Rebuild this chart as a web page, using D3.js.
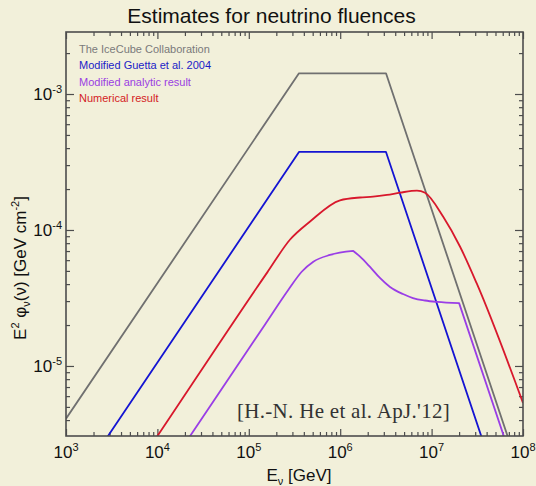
<!DOCTYPE html>
<html><head><meta charset="utf-8">
<script src="https://cdn.jsdelivr.net/npm/d3@7"></script>
<style>
html,body{margin:0;padding:0;background:#f2f0da;}
svg{display:block;}
text{font-family:"Liberation Sans",Arial,sans-serif;}
</style>
</head><body>
<svg id="chart" width="536" height="486"></svg>
<script>
// ---- data ----
const xMajorTicks = [1e3, 1e4, 1e5, 1e6, 1e7, 1e8];
const xTickExponents = ["3", "4", "5", "6", "7", "8"];
const yMajorTicks = [1e-5, 1e-4, 1e-3];
const yTickExponents = ["-5", "-4", "-3"];

const seriesNames = ["The IceCube Collaboration", "Modified Guetta et al. 2004", "Modified analytic result", "Numerical result"];

const iceCubeE = [1e3, 3.54e5, 3.17e6, 1e8];
const iceCubeV = [4.1e-6, 1.42e-3, 1.42e-3, 1.4e-6];

const guettaE = [1e3, 3.54e5, 3.17e6, 1e8];
const guettaV = [1.06e-6, 3.75e-4, 3.75e-4, 3.7e-7];

const analyticE = [1e3, 1.5e5, 2.70e5, 3.79e5, 5.08e5, 7.73e5, 1.39e6, 1.65e6, 2.12e6, 2.72e6, 3.51e6, 4.86e6, 6.25e6, 8.47e6, 1.15e7, 2.0e7, 1e8];
const analyticV = [1.34e-7, 2.01e-5, 3.62e-5, 4.93e-5, 5.85e-5, 6.55e-5, 7.01e-5, 6.37e-5, 5.35e-5, 4.44e-5, 3.81e-5, 3.38e-5, 3.16e-5, 3.03e-5, 2.96e-5, 2.90e-5, 1.16e-6];
const analyticCorners = [6, 15]; // indices where the curve has a sharp kink

const numericalE = [1e3, 1e4, 1.6e5, 2.83e5, 4.68e5, 9.95e5, 1.65e6, 2.29e6, 3.25e6, 4.51e6, 6.92e6, 8.47e6, 1.34e7, 2.05e7, 3.11e7, 1e8];
const numericalV = [3.05e-7, 3.05e-6, 4.9e-5, 8.51e-5, 1.155e-4, 1.653e-4, 1.734e-4, 1.757e-4, 1.81e-4, 1.88e-4, 1.95e-4, 1.88e-4, 1.25e-4, 7.53e-5, 4.06e-5, 5.35e-6];

// ---- layout ----
const W = 536, H = 486;
const m = {left: 66, right: 13, top: 32, bottom: 50};
const pw = W - m.left - m.right, ph = H - m.top - m.bottom;

const svg = d3.select("#chart");
svg.append("rect").attr("width", W).attr("height", H).attr("fill", "#f2f0da");

const x = d3.scaleLog().domain([1e3, 1e8]).range([m.left, m.left + pw]);
const y = d3.scaleLog().domain([Math.pow(10, -5.515), Math.pow(10, -2.544)]).range([m.top + ph, m.top]);

const xMinor = [];
for (let d = 3; d < 8; d++) for (let k = 2; k <= 9; k++) xMinor.push(k * Math.pow(10, d));
const yMinor = [];
for (let d = -6; d < -2; d++) for (let k = 2; k <= 9; k++) {
  const v = k * Math.pow(10, d);
  if (v > y.domain()[0] && v < y.domain()[1]) yMinor.push(v);
}

const axisColor = "#4d4d4d";
function styleAxis(g) {
  g.select(".domain").remove();
  g.selectAll(".tick line").attr("stroke", axisColor).attr("stroke-width", 1.2);
  g.selectAll(".tick text").remove();
}
svg.append("g").attr("transform", `translate(0,${m.top + ph})`)
  .call(d3.axisBottom(x).tickValues(xMajorTicks).tickSize(-7)).call(styleAxis);
svg.append("g").attr("transform", `translate(0,${m.top + ph})`)
  .call(d3.axisBottom(x).tickValues(xMinor).tickSize(-4)).call(styleAxis);
svg.append("g").attr("transform", `translate(0,${m.top})`)
  .call(d3.axisTop(x).tickValues(xMajorTicks).tickSize(-7)).call(styleAxis);
svg.append("g").attr("transform", `translate(0,${m.top})`)
  .call(d3.axisTop(x).tickValues(xMinor).tickSize(-4)).call(styleAxis);
svg.append("g").attr("transform", `translate(${m.left},0)`)
  .call(d3.axisLeft(y).tickValues(yMajorTicks).tickSize(-8)).call(styleAxis);
svg.append("g").attr("transform", `translate(${m.left},0)`)
  .call(d3.axisLeft(y).tickValues(yMinor).tickSize(-4)).call(styleAxis);
svg.append("g").attr("transform", `translate(${m.left + pw},0)`)
  .call(d3.axisRight(y).tickValues(yMajorTicks).tickSize(-8)).call(styleAxis);
svg.append("g").attr("transform", `translate(${m.left + pw},0)`)
  .call(d3.axisRight(y).tickValues(yMinor).tickSize(-4)).call(styleAxis);

svg.append("clipPath").attr("id", "clip").append("rect")
  .attr("x", m.left).attr("y", m.top).attr("width", pw).attr("height", ph);

const series = [
  {E: iceCubeE, V: iceCubeV, color: "#707070", curve: d3.curveLinear, corners: []},
  {E: guettaE, V: guettaV, color: "#1414d2", curve: d3.curveLinear, corners: []},
  {E: analyticE, V: analyticV, color: "#9a3ee6", curve: d3.curveMonotoneX, corners: analyticCorners},
  {E: numericalE, V: numericalV, color: "#d8182c", curve: d3.curveMonotoneX, corners: []}
];
const legendColors = ["#7a7a7a", "#1c1cc8", "#9a40e2", "#d41c24"];

const gLines = svg.append("g").attr("clip-path", "url(#clip)");
series.forEach(s => {
  const pts = s.E.map((e, i) => [e, s.V[i]]);
  const cuts = [0, ...s.corners, pts.length - 1];
  const line = d3.line().x(d => x(d[0])).y(d => y(d[1])).curve(s.curve);
  let d = "";
  for (let k = 0; k < cuts.length - 1; k++) {
    const seg = line(pts.slice(cuts[k], cuts[k + 1] + 1));
    d += (k === 0 ? seg : "L" + seg.slice(1));
  }
  gLines.append("path").attr("d", d)
    .attr("fill", "none").attr("stroke", s.color).attr("stroke-width", 1.8)
    .attr("stroke-linejoin", "round");
});

svg.append("rect").attr("x", m.left).attr("y", m.top).attr("width", pw).attr("height", ph)
  .attr("fill", "none").attr("stroke", axisColor).attr("stroke-width", 1.6);

xMajorTicks.forEach((t, i) => {
  const tx = svg.append("text").attr("x", x(t)).attr("y", m.top + ph + 22)
    .attr("text-anchor", "middle").attr("font-size", 17).attr("fill", "#111");
  tx.append("tspan").text("10");
  tx.append("tspan").attr("dy", -7).attr("font-size", 11).text(xTickExponents[i]);
});
yMajorTicks.forEach((t, i) => {
  const tx = svg.append("text").attr("x", m.left - 4).attr("y", y(t) + 6)
    .attr("text-anchor", "end").attr("font-size", 17).attr("fill", "#111");
  tx.append("tspan").text("10");
  tx.append("tspan").attr("dy", -7).attr("font-size", 11).text(yTickExponents[i]);
});

svg.append("text").attr("x", 271.5).attr("y", 23).attr("text-anchor", "middle")
  .attr("font-size", 21).attr("fill", "#111").text("Estimates for neutrino fluences");

const xt = svg.append("text").attr("x", 299).attr("y", 481).attr("text-anchor", "middle")
  .attr("font-size", 17).attr("fill", "#111");
xt.append("tspan").text("E");
xt.append("tspan").attr("dy", 4).attr("font-size", 11).text("ν");
xt.append("tspan").attr("dy", -4).text(" [GeV]");

const yt = svg.append("text").attr("transform", "translate(26,268) rotate(-90)")
  .attr("text-anchor", "middle").attr("font-size", 17).attr("fill", "#111");
yt.append("tspan").text("E");
yt.append("tspan").attr("dy", -7).attr("font-size", 11).text("2");
yt.append("tspan").attr("dy", 7).text(" φ");
yt.append("tspan").attr("dy", 4).attr("font-size", 11).text("ν");
yt.append("tspan").attr("dy", -4).text("(ν) [GeV cm");
yt.append("tspan").attr("dy", -7).attr("font-size", 11).text("-2");
yt.append("tspan").attr("dy", 7).text("]");

seriesNames.forEach((n, i) => {
  svg.append("text").attr("x", 79).attr("y", 53 + i * 16.3)
    .attr("font-size", 11).attr("fill", legendColors[i]).text(n);
});

svg.append("text").attr("x", 237).attr("y", 418)
  .style("font-family", "'Liberation Serif','Times New Roman',serif")
  .style("letter-spacing", "0.3px")
  .attr("font-size", 21).attr("fill", "#333").text("[H.-N. He et al. ApJ.'12]");
</script>
</body></html>
